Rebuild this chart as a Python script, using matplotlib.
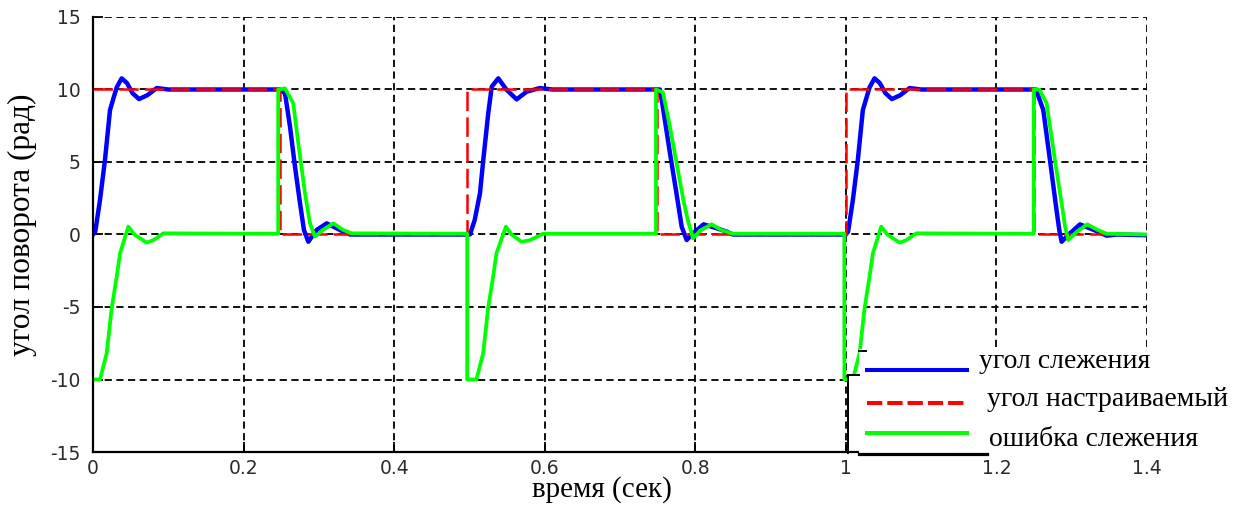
import numpy as np
import matplotlib.pyplot as plt
from matplotlib.lines import Line2D
from matplotlib.patches import Rectangle

plt.rcParams['axes.unicode_minus'] = False
plt.rcParams['lines.scale_dashes'] = False

W, H = 1254, 508  # размер картинки в пикселях

# угол настраиваемый (задание)
t_ref = [0.0, 0.248, 0.248, 0.497, 0.497, 0.749, 0.749, 1.0, 1.0, 1.25, 1.25, 1.4]
ref = [10, 10, 0, 0, 10, 10, 0, 0, 10, 10, 0, 0]

# угол слежения
t_track = [
    0.0, 0.003, 0.0093, 0.0159, 0.0226, 0.0315, 0.0381, 0.045, 0.0525, 0.0611, 0.072, 0.0846, 0.10, 0.248,
    0.255, 0.2617, 0.2683, 0.275, 0.2802, 0.286, 0.297, 0.3104, 0.328, 0.3413, 0.5007,
    0.507, 0.514, 0.5184, 0.525, 0.5296, 0.5383, 0.5495, 0.5627, 0.576, 0.5937, 0.61, 0.753,
    0.7575, 0.7664, 0.775, 0.7819, 0.7886, 0.797, 0.811, 0.8284, 0.8417, 0.85, 1.0,
    1.003, 1.0093, 1.0159, 1.0226, 1.0315, 1.0381, 1.045, 1.0525, 1.0611, 1.072, 1.0846, 1.10, 1.2525,
    1.2622, 1.2711, 1.279, 1.2835, 1.2866, 1.296, 1.311, 1.33, 1.3464, 1.36, 1.4]
track = [
    0.0, 0.2, 2.38, 5.14, 8.59, 10.15, 10.77, 10.45, 9.75, 9.34, 9.6, 10.1, 10.0, 10.0,
    9.74, 7.43, 4.68, 2.15, 0.31, -0.5, 0.31, 0.77, 0.31, 0.0, 0.0,
    1.0, 2.84, 5.14, 8.36, 10.19, 10.77, 9.97, 9.32, 9.85, 10.1, 10.0, 10.0,
    8.59, 5.6, 2.84, 0.54, -0.38, 0.08, 0.7, 0.43, 0.2, 0.0, 0.0,
    0.2, 2.38, 5.14, 8.59, 10.15, 10.77, 10.45, 9.75, 9.34, 9.6, 10.1, 10.0, 10.0,
    8.59, 5.14, 2.0, 0.3, -0.5, 0.0, 0.7, 0.3, -0.08, 0.0, -0.05]

# ошибка слежения
t_err = [
    0.0, 0.0093, 0.0182, 0.0248, 0.0315, 0.0359, 0.0469, 0.055, 0.0713, 0.08, 0.0934, 0.246,
    0.246, 0.255, 0.266, 0.2727, 0.2816, 0.2882, 0.2949, 0.305, 0.3192, 0.3325, 0.3436, 0.497,
    0.497, 0.5093, 0.5182, 0.5248, 0.5315, 0.5359, 0.5485, 0.556, 0.569, 0.58, 0.598, 0.7478,
    0.7478, 0.757, 0.7664, 0.7841, 0.79, 0.797, 0.807, 0.8218, 0.835, 0.85, 0.998,
    0.998, 1.0093, 1.0182, 1.0248, 1.0315, 1.0359, 1.0469, 1.055, 1.0713, 1.08, 1.0934, 1.2496,
    1.2496, 1.257, 1.2667, 1.2777, 1.2866, 1.291, 1.2954, 1.307, 1.3206, 1.335, 1.3464, 1.4]
err = [
    -10.0, -10.0, -8.19, -5.09, -2.91, -1.3, 0.54, 0.0, -0.56, -0.4, 0.08, 0.05,
    10.0, 10.08, 9.05, 6.29, 2.84, 0.77, -0.15, 0.3, 0.77, 0.31, 0.08, 0.05,
    -10.0, -10.0, -8.2, -5.1, -2.9, -1.3, 0.54, 0.0, -0.5, -0.4, 0.05, 0.05,
    10.0, 9.8, 7.4, 2.4, 1.0, -0.26, 0.3, 0.7, 0.3, 0.05, 0.05,
    -10.0, -10.0, -8.2, -5.1, -2.9, -1.3, 0.54, 0.0, -0.56, -0.4, 0.08, 0.05,
    10.0, 10.0, 9.05, 5.14, 2.15, 0.6, -0.38, 0.2, 0.7, 0.3, 0.05, 0.0]

xticks = [0, 0.2, 0.4, 0.6, 0.8, 1.0, 1.2, 1.4]
xtick_labels = ['0', '0.2', '0.4', '0.6', '0.8', '1', '1.2', '1.4']
yticks = [-15, -10, -5, 0, 5, 10, 15]
labels = ['угол слежения', 'угол настраиваемый', 'ошибка слежения']

BLUE, RED, GREEN = '#0000ff', '#ff0000', '#00ff00'
SERIF = ['Liberation Serif', 'DejaVu Serif']


def fx(x):
    return x / W


def fy(y):
    return 1 - y / H


fig = plt.figure(figsize=(W / 100, H / 100), dpi=100)
ax = fig.add_axes([fx(93), fy(452), 1054 / W, 435 / H])

ax.plot(t_track, track, color=BLUE, lw=3.2)
ax.plot(t_ref, ref, color=RED, lw=1.8, ls=(0, (14, 4.5)))
ax.plot(t_err, err, color=GREEN, lw=2.7)

ax.set_xlim(0, 1.4)
ax.set_ylim(-15, 15)
ax.set_xticks(xticks)
ax.set_xticklabels(xtick_labels)
ax.set_yticks(yticks)

## сетка и оси
ax.grid(True, color='#111111', lw=1.4, ls=(0, (5.2, 3.2)))
for s in ['top', 'right']:
    ax.spines[s].set_visible(False)
for s in ['left', 'bottom']:
    ax.spines[s].set_linewidth(1.6)
ax.tick_params(direction='in', length=7, width=1.3, labelsize=13.5, labelcolor='#2b2b2b')
ax.tick_params(axis='y', pad=9)
ax.tick_params(axis='x', pad=5)

fig.text(fx(602), fy(490), 'время (сек)', ha='center', va='center', fontsize=21, family=SERIF)
fig.text(fx(22), fy(225), 'угол поворота (рад)', ha='center', va='center', rotation=90,
         fontsize=22.5, family=SERIF)

## легенда (вставлена поверх графика)
for (x0, y0, x1, y1) in [(859, 349, 1254, 457), (848, 375, 859, 450)]:
    fig.add_artist(Rectangle((fx(x0), fy(y1)), fx(x1) - fx(x0), fy(y0) - fy(y1),
                             transform=fig.transFigure, facecolor='white', edgecolor='none', zorder=5))
for (xs, ys, lw) in [((859, 987), (453.5, 453.5), 2.3), ((848, 848), (375, 453), 1.4),
                     ((848, 859), (375, 375), 1.4), ((859, 866), (350.5, 350.5), 1.4)]:
    fig.add_artist(Line2D([fx(v) for v in xs], [fy(v) for v in ys], color='black', lw=lw,
                          transform=fig.transFigure, zorder=6))

handles = [(370, BLUE, '-'), (402.7, RED, (0, (11, 3.6))), (432.7, GREEN, '-')]
text_pos = [(979, 361.7), (987, 400), (989, 440)]
for (ly, c, st), (tx, ty), lab in zip(handles, text_pos, labels):
    fig.add_artist(Line2D([fx(866.7), fx(966.7)], [fy(ly)] * 2, color=c, lw=2.9, ls=st,
                          transform=fig.transFigure, zorder=6))
    fig.text(fx(tx), fy(ty), lab, ha='left', va='center', fontsize=20, family=SERIF, zorder=7)

plt.savefig('out.png', dpi=100)
